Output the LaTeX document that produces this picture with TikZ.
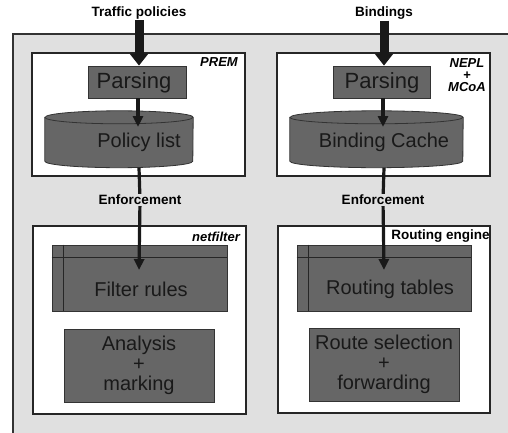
\documentclass[tikz,border=0pt]{standalone}
\usepackage{fontspec}
\setmainfont{Liberation Sans}
\usetikzlibrary{positioning, arrows.meta}

\begin{document}
\begin{tikzpicture}[x=1pt, y=1pt,
        frame/.style = {draw, black!85, line width=1.2pt, fill=white},
        block/.style = {draw, black!80, line width=0.8pt, fill=black!60, inner sep=0pt},
        blocktext/.style = {text=black!90, font=\fontsize{20}{20}\selectfont, align=center, inner sep=0pt},
        hull/.style = {inner sep=0pt, minimum height=56.5pt},
        tag/.style = {font=\bfseries\itshape\fontsize{13}{12}\selectfont, align=center, inner sep=1pt},
        caption/.style = {font=\bfseries\fontsize{13.5}{14}\selectfont, inner sep=1pt},
        fat/.style = {-{Triangle[width=18pt, length=12pt]}, line width=9pt, black!90},
        arrow/.style = {-{Triangle[width=10pt, length=11pt]}, line width=3.2pt, black!90}
    ]
    \clip (0,0) rectangle (508,432);
    % host background
    \fill[black!12] (13,398) rectangle (540,-20);
    \draw[black!80, line width=1.5pt] (13,-20) -- (13,398) -- (540,398);

    % upper boxes
    \node[frame, minimum width=213pt, minimum height=123pt] (prem) at (138.5,317.5) {};
    \node[frame, minimum width=213pt, minimum height=123pt] (nepl) at (383.5,317.5) {};
    \node[tag] (premTag) at (219,370) {PREM};
    \node[tag] (neplTag) at (467,357) {NEPL\\+\\MCoA};

    \node[block, minimum width=98pt, minimum height=32pt] (parsL) at (137,350) {};
    \node[blocktext, font=\fontsize{22}{20}\selectfont] (parsLTxt) at (134,349) {Parsing};
    \node[block, minimum width=97pt, minimum height=32pt] (parsR) at (381.5,350) {};
    \node[blocktext, font=\fontsize{22}{20}\selectfont] (parsRTxt) at (382,349) {Parsing};

    % databases
    \node[hull, minimum width=148pt] (cylL) at (119,292.75) {};
    \path[block] ([yshift=-6.5pt]cylL.north west) -- ([yshift=6.5pt]cylL.south west)
        arc[start angle=180, end angle=360, x radius=74pt, y radius=6.5pt]
        -- ([yshift=-6.5pt]cylL.north east)
        arc[start angle=0, end angle=180, x radius=74pt, y radius=6.5pt] -- cycle;
    \draw[black!80, line width=0.8pt] ([yshift=-6.5pt]cylL.north west)
        arc[start angle=180, end angle=360, x radius=74pt, y radius=6.5pt];
    \node[blocktext] (cylLTxt) at (139,290) {Policy list};

    \node[hull, minimum width=173pt] (cylR) at (376.5,292.75) {};
    \path[block] ([yshift=-6.5pt]cylR.north west) -- ([yshift=6.5pt]cylR.south west)
        arc[start angle=180, end angle=360, x radius=86.5pt, y radius=6.5pt]
        -- ([yshift=-6.5pt]cylR.north east)
        arc[start angle=0, end angle=180, x radius=86.5pt, y radius=6.5pt] -- cycle;
    \draw[black!80, line width=0.8pt] ([yshift=-6.5pt]cylR.north west)
        arc[start angle=180, end angle=360, x radius=86.5pt, y radius=6.5pt];
    \node[blocktext] (cylRTxt) at (384,290) {Binding Cache};

    % lower boxes
    \node[frame, minimum width=213pt, minimum height=188pt] (netf) at (139.5,112) {};
    \node[frame, minimum width=212pt, minimum height=187pt] (reng) at (384,112.5) {};
    \node[tag] (netfTag) at (216,195.5) {netfilter};
    \node[caption] (rengTag) at (440.5,196) {Routing engine};

    \node[block, minimum width=175pt, minimum height=66pt] (filt) at (139.5,154) {};
    \draw[black!85, line width=1.5pt] ([yshift=-13pt]filt.north west) -- ([yshift=-13pt]filt.north east)
        ([xshift=12pt]filt.north west) -- ([xshift=12pt]filt.south west);
    \node[blocktext] (filtTxt) at (141,143) {Filter rules};
    \node[block, minimum width=174pt, minimum height=66pt] (rtab) at (384,154) {};
    \draw[black!85, line width=1.5pt] ([yshift=-13pt]rtab.north west) -- ([yshift=-13pt]rtab.north east)
        ([xshift=12pt]rtab.north west) -- ([xshift=12pt]rtab.south west);
    \node[blocktext] (rtabTxt) at (390,143) {Routing tables};

    \node[block, minimum width=150pt, minimum height=73pt] (anal) at (139,66.5) {};
    \node[blocktext] (analTxt) at (anal) {Analysis\\+\\marking};
    \node[block, minimum width=150pt, minimum height=73pt] (rsel) at (384,67.5) {};
    \node[blocktext] (rselTxt) at (rsel) {Route selection\\+\\forwarding};

    % inputs
    \node[caption] (trafTitle) at (139,419) {Traffic policies};
    \node[caption] (bindTitle) at (384,419) {Bindings};
    \draw[fat] (trafTitle) -- (trafTitle |- parsL.north);
    \draw[fat] (bindTitle) -- (bindTitle |- parsR.north);

    \coordinate (inL) at (138,305);
    \coordinate (inR) at (383,305);
    \draw[arrow] (parsL.south -| inL) -- (inL);
    \draw[arrow] (parsR.south -| inR) -- (inR);

    % enforcement
    \node[caption] (enfL) at (140,232) {Enforcement};
    \node[caption] (enfR) at (383,232) {Enforcement};
    \coordinate (outL) at (139,162);
    \coordinate (outR) at (384,162);
    \draw[arrow] (outL |- cylL.south) -- (enfL) -- (outL);
    \draw[arrow] (outR |- cylR.south) -- (enfR) -- (outR);
\end{tikzpicture}
\end{document}
